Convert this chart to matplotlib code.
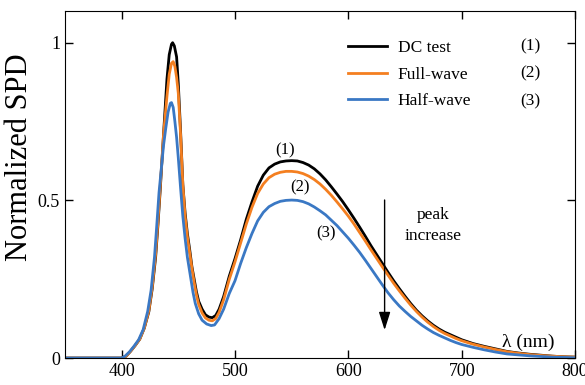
import matplotlib
matplotlib.use("Agg")
import matplotlib.pyplot as plt
import numpy as np

plt.rcParams['font.family'] = ['Liberation Serif', 'DejaVu Serif']

# (wavelength nm, normalized SPD)
dc_test = [(350, 0), (400, 0), (404, 0.006), (408, 0.022), (412, 0.04), (416, 0.06),
           (420, 0.095), (424, 0.147), (427, 0.22), (430, 0.32), (432, 0.42), (434, 0.53),
           (437, 0.71), (440, 0.885), (442, 0.962), (444, 0.995), (445, 1.0), (446.5, 0.99),
           (448.5, 0.955), (450, 0.87), (452, 0.72), (454, 0.55), (456, 0.46), (458, 0.395),
           (460, 0.345), (462, 0.29), (464, 0.25), (466, 0.21), (468, 0.18), (471, 0.155),
           (474, 0.137), (477, 0.13), (480, 0.128), (483, 0.135), (486, 0.155), (490, 0.195),
           (495, 0.26), (500, 0.315), (505, 0.375), (510, 0.44), (515, 0.495), (520, 0.545),
           (525, 0.58), (530, 0.603), (535, 0.615), (540, 0.622), (545, 0.625), (550, 0.626),
           (555, 0.625), (560, 0.62), (565, 0.612), (570, 0.6), (575, 0.584), (580, 0.565),
           (585, 0.543), (590, 0.52), (595, 0.496), (600, 0.47), (605, 0.443), (610, 0.415),
           (615, 0.386), (620, 0.356), (625, 0.328), (630, 0.30), (635, 0.272), (640, 0.245),
           (645, 0.22), (650, 0.196), (655, 0.173), (660, 0.152), (665, 0.134), (670, 0.118),
           (675, 0.104), (680, 0.092), (685, 0.082), (690, 0.074), (695, 0.066), (700, 0.058),
           (710, 0.046), (720, 0.037), (730, 0.029), (740, 0.021), (750, 0.016), (760, 0.012),
           (770, 0.009), (780, 0.006), (790, 0.004), (800, 0.003)]

full_wave = [(350, 0), (400, 0), (404, 0.006), (408, 0.022), (412, 0.04), (416, 0.06),
             (420, 0.095), (424, 0.15), (427, 0.225), (430, 0.33), (432, 0.43), (434, 0.54),
             (437, 0.71), (440, 0.83), (442, 0.9), (444, 0.935), (445.5, 0.94), (447, 0.925),
             (448.5, 0.89), (450, 0.84), (452, 0.71), (454, 0.55), (456, 0.45), (458, 0.385),
             (460, 0.335), (462, 0.285), (464, 0.24), (466, 0.2), (468, 0.17), (471, 0.143),
             (474, 0.127), (477, 0.12), (480, 0.118), (483, 0.125), (486, 0.145), (490, 0.185),
             (495, 0.25), (500, 0.305), (505, 0.365), (510, 0.425), (515, 0.478), (520, 0.522),
             (525, 0.552), (530, 0.572), (535, 0.583), (540, 0.589), (545, 0.592), (550, 0.592),
             (555, 0.59), (560, 0.585), (565, 0.577), (570, 0.566), (575, 0.552), (580, 0.535),
             (585, 0.516), (590, 0.495), (595, 0.473), (600, 0.45), (605, 0.425), (610, 0.398),
             (615, 0.371), (620, 0.343), (625, 0.316), (630, 0.289), (635, 0.263), (640, 0.237),
             (645, 0.213), (650, 0.19), (655, 0.168), (660, 0.148), (665, 0.13), (670, 0.114),
             (675, 0.1), (680, 0.088), (685, 0.078), (690, 0.07), (695, 0.062), (700, 0.055),
             (710, 0.044), (720, 0.035), (730, 0.027), (740, 0.02), (750, 0.015), (760, 0.011),
             (770, 0.008), (780, 0.006), (790, 0.004), (800, 0.003)]

half_wave = [(350, 0), (400, 0), (403, 0.006), (407, 0.02), (411, 0.038), (415, 0.058),
             (419, 0.09), (423, 0.148), (426, 0.215), (429, 0.32), (431, 0.42), (433, 0.525),
             (435, 0.6), (437, 0.675), (439, 0.73), (441, 0.78), (443, 0.808), (444, 0.81),
             (445.5, 0.795), (447, 0.75), (448.5, 0.7), (450, 0.635), (452, 0.54), (454, 0.45),
             (456, 0.38), (458, 0.32), (461, 0.253), (463, 0.208), (465, 0.173), (468, 0.14),
             (471, 0.12), (475, 0.108), (479, 0.103), (482, 0.105), (486, 0.125), (490, 0.155),
             (495, 0.205), (500, 0.245), (505, 0.3), (510, 0.35), (515, 0.395), (520, 0.435),
             (525, 0.462), (530, 0.48), (535, 0.49), (540, 0.497), (545, 0.5), (550, 0.501),
             (555, 0.5), (560, 0.496), (565, 0.489), (570, 0.479), (575, 0.467), (580, 0.454),
             (585, 0.437), (590, 0.42), (595, 0.4), (600, 0.38), (605, 0.358), (610, 0.335),
             (615, 0.31), (620, 0.284), (625, 0.258), (630, 0.232), (635, 0.207), (640, 0.185),
             (645, 0.165), (650, 0.148), (655, 0.132), (660, 0.118), (665, 0.104), (670, 0.092),
             (675, 0.081), (680, 0.072), (685, 0.064), (690, 0.056), (695, 0.049), (700, 0.043),
             (710, 0.034), (720, 0.026), (730, 0.019), (740, 0.013), (750, 0.01), (760, 0.007),
             (770, 0.005), (780, 0.003), (790, 0.002), (800, 0.001)]

labels = ["DC test", "Full-wave", "Half-wave"]
tags = ["(1)", "(2)", "(3)"]
colors = ["black", "#f47f20", "#3a78c4"]

fig = plt.figure(figsize=(5.85, 3.85), dpi=100)
ax = fig.add_axes([0.111, 0.070, 0.872, 0.901])

for series, lab, c in zip([dc_test, full_wave, half_wave], labels, colors):
    wl, spd = np.array(series).T
    ax.plot(wl, spd, color=c, lw=2.0, label=lab)

ax.set_xlim(350, 800)
ax.set_ylim(0, 1.1)
ax.set_xticks([400, 500, 600, 700, 800])
ax.set_yticks([0, 0.5, 1])
ax.set_yticklabels(["0", "0.5", "1"])
ax.tick_params(direction='in', top=True, right=True, length=6, width=1, labelsize=13)
ax.set_ylabel("Normalized SPD", fontsize=22)
ax.yaxis.set_label_coords(-0.06, 0.58)

leg = ax.legend(loc='upper left', bbox_to_anchor=(0.525, 0.962), frameon=False,
                fontsize=12.5, handlelength=2.25, handletextpad=0.6, labelspacing=0.6)
for i, t in enumerate(tags):
    ax.text(0.912, 0.899 - i * 0.079, t, transform=ax.transAxes, fontsize=12.5,
            ha='center', va='center')

# curve tags near the broad peak
ax.text(544, 0.66, "(1)", fontsize=12, ha='center', va='center')
ax.text(557, 0.54, "(2)", fontsize=12, ha='center', va='center')
ax.text(580, 0.395, "(3)", fontsize=12, ha='center', va='center')

ax.annotate("", xy=(632, 0.08), xytext=(632, 0.51),
            arrowprops=dict(arrowstyle='-|>,head_length=1.1,head_width=0.35',
                            color='black', lw=1))
ax.text(675, 0.42, "peak\nincrease", fontsize=12.5, ha='center', va='center',
        linespacing=1.45)
ax.text(782, 0.05, "λ (nm)", fontsize=14, ha='right', va='center')

fig.savefig("out.png", dpi=100)
